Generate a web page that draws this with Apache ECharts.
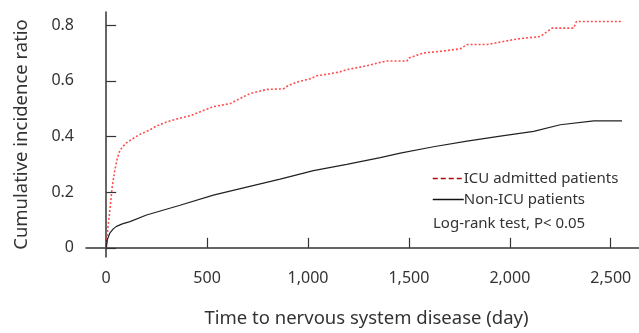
<!DOCTYPE html>
<html>
<head>
<meta charset="utf-8">
<script src="https://cdn.jsdelivr.net/npm/echarts@6/dist/echarts.min.js"></script>
<style>
  html, body { margin: 0; padding: 0; background: #fff; }
  #chart { width: 639px; height: 333px; }
</style>
</head>
<body>
<div id="chart"></div>
<script>
// ICU admitted patients (small steps)
const icuDays = [0, 8, 19, 30, 43, 55, 68, 84, 100, 126, 160, 217, 250, 300, 350, 415, 470, 531, 614, 660, 713, 796, 878, 900, 944, 1010, 1044, 1100, 1159, 1192, 1292, 1358, 1391, 1490, 1500, 1573, 1660, 1755, 1788, 1887, 1895, 1960, 2036, 2151, 2160, 2209, 2316, 2330, 2556]
const icuValues = [0, 0.07, 0.14, 0.22, 0.28, 0.32, 0.35, 0.365, 0.377, 0.389, 0.405, 0.424, 0.438, 0.452, 0.463, 0.474, 0.49, 0.507, 0.518, 0.535, 0.554, 0.569, 0.571, 0.582, 0.595, 0.607, 0.618, 0.624, 0.632, 0.64, 0.654, 0.666, 0.671, 0.671, 0.682, 0.7, 0.706, 0.715, 0.73, 0.73, 0.737, 0.74, 0.75, 0.759, 0.762, 0.789, 0.789, 0.813, 0.813]

// Non-ICU patients
const nonIcuDays = [0, 6, 18, 35, 51, 80, 118, 200, 366, 531, 696, 862, 1027, 1192, 1358, 1457, 1622, 1788, 1953, 2118, 2250, 2416, 2556]
const nonIcuValues = [0, 0.03, 0.053, 0.068, 0.077, 0.086, 0.094, 0.118, 0.153, 0.189, 0.218, 0.247, 0.277, 0.3, 0.324, 0.34, 0.363, 0.383, 0.401, 0.418, 0.442, 0.456, 0.456]

const xTicks = [0, 500, 1000, 1500, 2000, 2500]
const yTicks = [0, 0.2, 0.4, 0.6, 0.8]

const FONT = 'Noto Sans'

const chart = echarts.init(document.getElementById('chart'))

const option = {
  animation: false,
  grid: { left: 86, top: 12, right: 0, bottom: 72, containLabel: false },
  xAxis: {
    type: 'value',
    min: -100,
    max: 2640,
    name: 'Time to nervous system disease (day)',
    nameLocation: 'middle',
    nameGap: 52,
    nameTextStyle: { fontFamily: FONT, fontSize: 18.5, color: '#333', padding: [0, 0, 0, 8] },
    splitLine: { show: false },
    axisLine: { lineStyle: { color: '#333', width: 1.5 } },
    axisTick: { inside: true, length: 10, customValues: xTicks, lineStyle: { color: '#333', width: 1.2 } },
    axisLabel: {
      customValues: xTicks,
      margin: 13,
      fontFamily: FONT,
      fontSize: 16,
      color: '#333',
      formatter: v => v.toLocaleString('en-US')
    }
  },
  yAxis: {
    type: 'value',
    min: -0.033,
    max: 0.847,
    name: 'Cumulative incidence ratio',
    nameLocation: 'middle',
    nameGap: 55,
    nameTextStyle: { fontFamily: FONT, fontSize: 18.5, color: '#333' },
    splitLine: { show: false },
    axisLine: { show: true, lineStyle: { color: '#333', width: 1.5 } },
    axisTick: { show: true, inside: true, length: 10, customValues: yTicks, lineStyle: { color: '#333', width: 1.2 } },
    axisLabel: {
      customValues: yTicks,
      margin: 12,
      fontFamily: FONT,
      fontSize: 16,
      color: '#333',
      formatter: v => (v === 0 ? '0' : v.toFixed(1))
    }
  },
  legend: {
    orient: 'vertical',
    left: 427,
    top: 166,
    itemWidth: 31,
    itemHeight: 12,
    itemGap: 6,
    itemStyle: { opacity: 0 },
    textStyle: { fontFamily: FONT, fontSize: 15, color: '#333', padding: [0, 0, 0, -5] },
    data: [
      { name: 'ICU admitted patients', itemStyle: { opacity: 0 }, lineStyle: { color: '#b00000', type: [5, 3], width: 1.5 } },
      { name: 'Non-ICU patients', itemStyle: { opacity: 0 }, lineStyle: { color: '#111', type: 'solid', width: 1.5 } }
    ]
  },
  graphic: [{
    type: 'text',
    left: 433,
    top: 216,
    style: { text: 'Log-rank test, P< 0.05', fontFamily: FONT, fontSize: 15, fill: '#333' }
  }],
  series: [
    {
      name: 'ICU admitted patients',
      type: 'line',
      symbol: 'none',
      lineStyle: { color: '#ff4d4d', width: 1.6, type: [2, 2] },
      itemStyle: { color: '#b00000' },
      data: icuDays.map((d, i) => [d, icuValues[i]])
    },
    {
      name: 'Non-ICU patients',
      type: 'line',
      symbol: 'none',
      lineStyle: { color: '#222', width: 1.2 },
      itemStyle: { color: '#111' },
      data: nonIcuDays.map((d, i) => [d, nonIcuValues[i]])
    }
  ]
}

chart.setOption(option)
</script>
</body>
</html>
